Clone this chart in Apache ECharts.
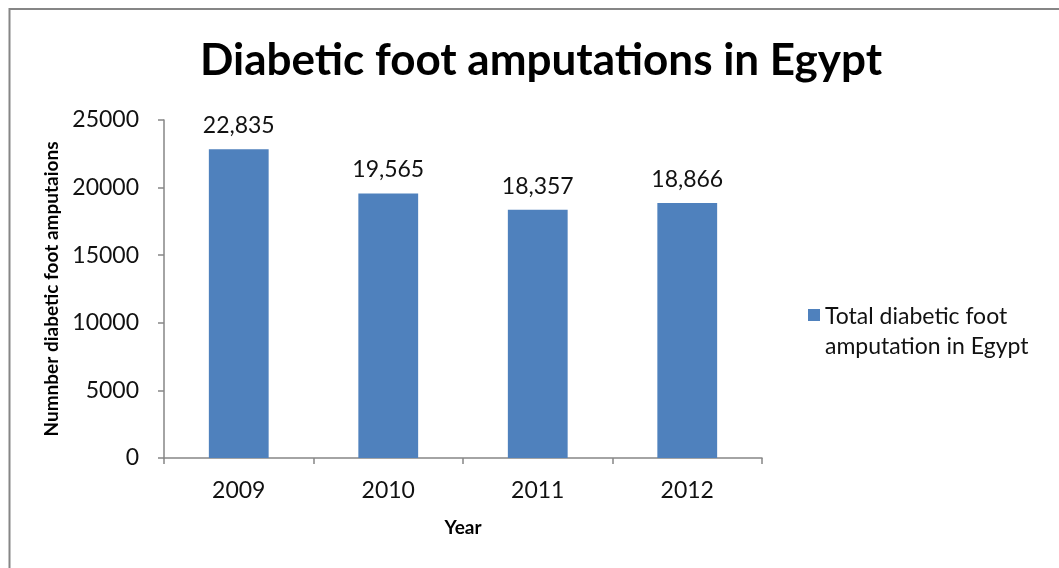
<!DOCTYPE html>
<html>
<head>
<meta charset="utf-8">
<script src="https://cdn.jsdelivr.net/npm/echarts@6/dist/echarts.min.js"></script>
<style>
html,body{margin:0;padding:0;background:#fff;}
#chart{width:1059px;height:568px;}
</style>
</head>
<body>
<div id="chart"></div>
<script>
const categories = ['2009', '2010', '2011', '2012'];
const values = [22835, 19565, 18357, 18866];
const seriesName = 'Total diabetic foot\namputation in Egypt';
const yTicks = { min: 0, max: 25000, interval: 5000 };

const FONT = 'Lato, "Open Sans", sans-serif';
const chart = echarts.init(document.getElementById('chart'));
chart.setOption({
  animation: false,
  backgroundColor: '#fff',
  graphic: [{
    type: 'rect', silent: true,
    shape: { x: 9.5, y: 9, width: 1300, height: 1000 },
    style: { fill: 'none', stroke: '#868686', lineWidth: 2 }
  }],
  title: {
    text: 'Diabetic foot amputations in Egypt',
    left: 536, top: 34, textAlign: 'center',
    textStyle: { fontFamily: FONT, fontWeight: 'bold', fontSize: 44, color: '#000' }
  },
  legend: {
    left: 803, top: 297,
    itemWidth: 12, itemHeight: 46, itemGap: 6,
    icon: 'path://M0,0h12v12h-12z M0,45.95h0.05v0.05h-0.05z',
    textStyle: { fontFamily: FONT, fontSize: 23, color: '#111', lineHeight: 30 },
    data: [seriesName]
  },
  grid: { left: 164, right: 297, top: 120, bottom: 110 },
  xAxis: {
    type: 'category', data: categories,
    name: 'Year', nameLocation: 'middle', nameGap: 60,
    nameTextStyle: { fontFamily: FONT, fontWeight: 'bold', fontSize: 19, color: '#000' },
    axisLine: { lineStyle: { color: '#868686', width: 1.5 } },
    axisTick: { show: true, length: 6, alignWithLabel: false, lineStyle: { color: '#868686', width: 1.5 } },
    axisLabel: { fontFamily: FONT, fontSize: 23, color: '#111', margin: 21 }
  },
  yAxis: {
    type: 'value', min: yTicks.min, max: yTicks.max, interval: yTicks.interval,
    name: 'Numnber diabetic foot amputaions', nameLocation: 'middle', nameGap: 96,
    nameTextStyle: { fontFamily: FONT, fontWeight: 'bold', fontSize: 19, color: '#000' },
    splitLine: { show: false },
    axisLine: { show: true, lineStyle: { color: '#868686', width: 1.5 } },
    axisTick: { show: true, length: 6, lineStyle: { color: '#868686', width: 1.5 } },
    axisLabel: { fontFamily: FONT, fontSize: 23, color: '#111', margin: 25, formatter: v => String(v) }
  },
  series: [{
    type: 'bar', name: seriesName, data: values,
    barWidth: '40%',
    itemStyle: { color: '#4F81BD' },
    label: {
      show: true, position: 'top', distance: 12,
      fontFamily: FONT, fontSize: 23, color: '#111',
      formatter: p => p.value.toLocaleString('en-US')
    }
  }]
});
</script>
</body>
</html>
